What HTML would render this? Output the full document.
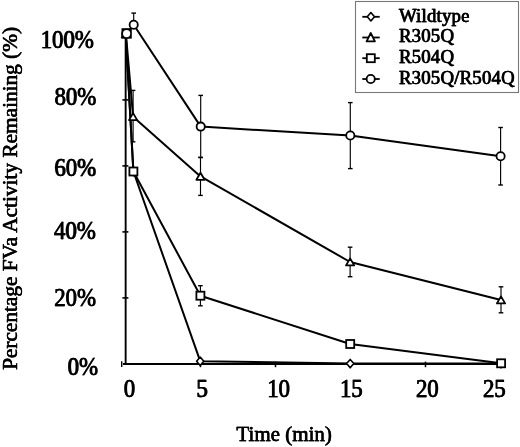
<!DOCTYPE html><html><head><meta charset="utf-8"><style>html,body{margin:0;padding:0;background:#fff;overflow:hidden}svg{display:block;will-change:transform}text{font-family:"Liberation Serif",serif;font-weight:normal;fill:#000;stroke:#000}</style></head><body>
<svg width="520" height="447" viewBox="0 0 520 447">
<rect x="0" y="0" width="520" height="447" fill="#fff"/>
<rect x="355.5" y="1.5" width="163" height="91" fill="none" stroke="#777" stroke-width="1.1"/>
<line x1="125.65" y1="33.90" x2="125.65" y2="364.9" stroke="#000" stroke-width="1.9"/>
<line x1="123.0" y1="363.9" x2="500.50" y2="363.9" stroke="#000" stroke-width="2"/>
<line x1="122.4" y1="297.90" x2="128.4" y2="297.90" stroke="#000" stroke-width="1.6"/>
<line x1="122.4" y1="231.90" x2="128.4" y2="231.90" stroke="#000" stroke-width="1.6"/>
<line x1="122.4" y1="165.90" x2="128.4" y2="165.90" stroke="#000" stroke-width="1.6"/>
<line x1="122.4" y1="99.90" x2="128.4" y2="99.90" stroke="#000" stroke-width="1.6"/>
<line x1="122.4" y1="33.90" x2="128.4" y2="33.90" stroke="#000" stroke-width="1.6"/>
<line x1="200.50" y1="361.6" x2="200.50" y2="367.2" stroke="#000" stroke-width="1.5"/>
<line x1="275.50" y1="361.6" x2="275.50" y2="367.2" stroke="#000" stroke-width="1.5"/>
<line x1="350.50" y1="361.6" x2="350.50" y2="367.2" stroke="#000" stroke-width="1.5"/>
<line x1="425.50" y1="361.6" x2="425.50" y2="367.2" stroke="#000" stroke-width="1.5"/>
<line x1="121.7" y1="361.3" x2="121.7" y2="366.9" stroke="#000" stroke-width="1.4"/>
<line x1="133.70" y1="13.10" x2="133.70" y2="24.80" stroke="#000" stroke-width="1.15"/>
<line x1="131.40" y1="13.10" x2="136.00" y2="13.10" stroke="#000" stroke-width="1.4"/>
<line x1="131.40" y1="24.80" x2="136.00" y2="24.80" stroke="#000" stroke-width="1.4"/>
<line x1="200.70" y1="95.40" x2="200.70" y2="157.60" stroke="#000" stroke-width="1.15"/>
<line x1="198.40" y1="95.40" x2="203.00" y2="95.40" stroke="#000" stroke-width="1.4"/>
<line x1="198.40" y1="157.60" x2="203.00" y2="157.60" stroke="#000" stroke-width="1.4"/>
<line x1="350.30" y1="102.60" x2="350.30" y2="168.60" stroke="#000" stroke-width="1.15"/>
<line x1="348.00" y1="102.60" x2="352.60" y2="102.60" stroke="#000" stroke-width="1.4"/>
<line x1="348.00" y1="168.60" x2="352.60" y2="168.60" stroke="#000" stroke-width="1.4"/>
<line x1="500.60" y1="127.50" x2="500.60" y2="185.00" stroke="#000" stroke-width="1.15"/>
<line x1="498.30" y1="127.50" x2="502.90" y2="127.50" stroke="#000" stroke-width="1.4"/>
<line x1="498.30" y1="185.00" x2="502.90" y2="185.00" stroke="#000" stroke-width="1.4"/>
<line x1="133.10" y1="90.40" x2="133.10" y2="141.80" stroke="#000" stroke-width="1.15"/>
<line x1="130.80" y1="90.40" x2="135.40" y2="90.40" stroke="#000" stroke-width="1.4"/>
<line x1="130.80" y1="141.80" x2="135.40" y2="141.80" stroke="#000" stroke-width="1.4"/>
<line x1="200.50" y1="157.30" x2="200.50" y2="195.40" stroke="#000" stroke-width="1.15"/>
<line x1="198.20" y1="157.30" x2="202.80" y2="157.30" stroke="#000" stroke-width="1.4"/>
<line x1="198.20" y1="195.40" x2="202.80" y2="195.40" stroke="#000" stroke-width="1.4"/>
<line x1="350.10" y1="247.20" x2="350.10" y2="276.70" stroke="#000" stroke-width="1.15"/>
<line x1="347.80" y1="247.20" x2="352.40" y2="247.20" stroke="#000" stroke-width="1.4"/>
<line x1="347.80" y1="276.70" x2="352.40" y2="276.70" stroke="#000" stroke-width="1.4"/>
<line x1="501.00" y1="286.80" x2="501.00" y2="312.80" stroke="#000" stroke-width="1.15"/>
<line x1="498.70" y1="286.80" x2="503.30" y2="286.80" stroke="#000" stroke-width="1.4"/>
<line x1="498.70" y1="312.80" x2="503.30" y2="312.80" stroke="#000" stroke-width="1.4"/>
<line x1="200.40" y1="285.70" x2="200.40" y2="305.80" stroke="#000" stroke-width="1.15"/>
<line x1="198.10" y1="285.70" x2="202.70" y2="285.70" stroke="#000" stroke-width="1.4"/>
<line x1="198.10" y1="305.80" x2="202.70" y2="305.80" stroke="#000" stroke-width="1.4"/>
<polyline points="125.70,34.00 133.40,171.50 200.20,361.20 350.20,363.60 501.00,363.60" fill="none" stroke="#000" stroke-width="2.0" stroke-linejoin="round"/>
<polyline points="125.70,33.60 133.40,171.50 200.40,295.70 350.20,344.00 501.10,363.30" fill="none" stroke="#000" stroke-width="2.0" stroke-linejoin="round"/>
<polyline points="125.90,34.00 133.10,116.70 200.50,176.40 350.10,262.00 501.00,300.00" fill="none" stroke="#000" stroke-width="2.0" stroke-linejoin="round"/>
<polyline points="126.30,33.70 133.70,24.80 200.70,126.60 350.30,135.50 500.60,156.30" fill="none" stroke="#000" stroke-width="2.0" stroke-linejoin="round"/>
<polygon points="125.70,29.80 129.30,34.00 125.70,38.20 122.10,34.00" fill="#fff" stroke="#000" stroke-width="1.6" stroke-linejoin="round"/>
<polygon points="133.40,167.30 137.00,171.50 133.40,175.70 129.80,171.50" fill="#fff" stroke="#000" stroke-width="1.6" stroke-linejoin="round"/>
<polygon points="200.20,357.00 203.80,361.20 200.20,365.40 196.60,361.20" fill="#fff" stroke="#000" stroke-width="1.6" stroke-linejoin="round"/>
<polygon points="350.20,359.40 353.80,363.60 350.20,367.80 346.60,363.60" fill="#fff" stroke="#000" stroke-width="1.6" stroke-linejoin="round"/>
<polygon points="501.00,359.40 504.60,363.60 501.00,367.80 497.40,363.60" fill="#fff" stroke="#000" stroke-width="1.6" stroke-linejoin="round"/>
<polygon points="125.90,30.40 130.00,37.40 121.80,37.40" fill="#fff" stroke="#000" stroke-width="1.8" stroke-linejoin="round"/>
<polygon points="133.10,113.10 137.20,120.10 129.00,120.10" fill="#fff" stroke="#000" stroke-width="1.8" stroke-linejoin="round"/>
<polygon points="200.50,172.80 204.60,179.80 196.40,179.80" fill="#fff" stroke="#000" stroke-width="1.8" stroke-linejoin="round"/>
<polygon points="350.10,258.40 354.20,265.40 346.00,265.40" fill="#fff" stroke="#000" stroke-width="1.8" stroke-linejoin="round"/>
<polygon points="501.00,296.40 505.10,303.40 496.90,303.40" fill="#fff" stroke="#000" stroke-width="1.8" stroke-linejoin="round"/>
<circle cx="126.30" cy="33.70" r="4.1" fill="#fff" stroke="#000" stroke-width="1.8"/>
<circle cx="133.70" cy="24.80" r="4.1" fill="#fff" stroke="#000" stroke-width="1.8"/>
<circle cx="200.70" cy="126.60" r="4.1" fill="#fff" stroke="#000" stroke-width="1.8"/>
<circle cx="350.30" cy="135.50" r="4.1" fill="#fff" stroke="#000" stroke-width="1.8"/>
<circle cx="500.60" cy="156.30" r="4.1" fill="#fff" stroke="#000" stroke-width="1.8"/>
<rect x="129.40" y="167.50" width="8" height="8" fill="#fff" stroke="#000" stroke-width="1.8"/>
<rect x="196.40" y="291.70" width="8" height="8" fill="#fff" stroke="#000" stroke-width="1.8"/>
<rect x="346.20" y="340.00" width="8" height="8" fill="#fff" stroke="#000" stroke-width="1.8"/>
<rect x="497.10" y="359.30" width="8" height="8" fill="#fff" stroke="#000" stroke-width="1.8"/>
<rect x="121.5" y="28.2" width="10.3" height="10.4" fill="#000"/>
<circle cx="126.6" cy="33.6" r="3.6" fill="#fff"/>
<line x1="362.3" y1="16.8" x2="379.7" y2="16.8" stroke="#000" stroke-width="1.8"/>
<line x1="362.3" y1="37.5" x2="379.7" y2="37.5" stroke="#000" stroke-width="1.8"/>
<line x1="362.3" y1="58.2" x2="379.7" y2="58.2" stroke="#000" stroke-width="1.8"/>
<line x1="362.3" y1="79.0" x2="379.7" y2="79.0" stroke="#000" stroke-width="1.8"/>
<polygon points="370.90,12.60 374.50,16.80 370.90,21.00 367.30,16.80" fill="#fff" stroke="#000" stroke-width="1.6" stroke-linejoin="round"/>
<polygon points="370.75,33.0 374.9,41.4 366.6,41.4" fill="#fff" stroke="#000" stroke-width="1.8" stroke-linejoin="round"/>
<rect x="366.80" y="54.20" width="8" height="8" fill="#fff" stroke="#000" stroke-width="1.8"/>
<circle cx="370.70" cy="79.00" r="4.1" fill="#fff" stroke="#000" stroke-width="1.8"/>
<g transform="translate(398.7,21.6)" font-size="18.8" text-anchor="start"><text x="0" style="stroke-width:0.35px;letter-spacing:0.2px">Wildtype</text><text x="0.45" style="stroke-width:0.35px;letter-spacing:0.2px">Wildtype</text></g>
<g transform="translate(398.7,42.0)" font-size="18.8" text-anchor="start"><text x="0" style="stroke-width:0.35px;letter-spacing:0.2px">R305Q</text><text x="0.45" style="stroke-width:0.35px;letter-spacing:0.2px">R305Q</text></g>
<g transform="translate(398.7,63.2)" font-size="18.8" text-anchor="start"><text x="0" style="stroke-width:0.35px;letter-spacing:0.2px">R504Q</text><text x="0.45" style="stroke-width:0.35px;letter-spacing:0.2px">R504Q</text></g>
<g transform="translate(398.7,84.2)" font-size="18.8" text-anchor="start"><text x="0" style="stroke-width:0.35px;letter-spacing:0.2px">R305Q/R504Q</text><text x="0.45" style="stroke-width:0.35px;letter-spacing:0.2px">R305Q/R504Q</text></g>
<g transform="translate(93.40,47.90) scale(0.955,1.03)" font-size="24" text-anchor="end"><text x="0" style="stroke-width:0.35px;letter-spacing:-0.1px">100%</text><text x="0.6" style="stroke-width:0.35px;letter-spacing:-0.1px">100%</text></g>
<g transform="translate(95.95,104.95) scale(0.955,1.03)" font-size="24" text-anchor="end"><text x="0" style="stroke-width:0.35px;letter-spacing:-0.1px">80%</text><text x="0.6" style="stroke-width:0.35px;letter-spacing:-0.1px">80%</text></g>
<g transform="translate(95.80,176.35) scale(0.955,1.03)" font-size="24" text-anchor="end"><text x="0" style="stroke-width:0.35px;letter-spacing:-0.1px">60%</text><text x="0.6" style="stroke-width:0.35px;letter-spacing:-0.1px">60%</text></g>
<g transform="translate(95.45,238.90) scale(0.955,1.03)" font-size="24" text-anchor="end"><text x="0" style="stroke-width:0.35px;letter-spacing:-0.1px">40%</text><text x="0.6" style="stroke-width:0.35px;letter-spacing:-0.1px">40%</text></g>
<g transform="translate(95.65,305.65) scale(0.955,1.03)" font-size="24" text-anchor="end"><text x="0" style="stroke-width:0.35px;letter-spacing:-0.1px">20%</text><text x="0.6" style="stroke-width:0.35px;letter-spacing:-0.1px">20%</text></g>
<g transform="translate(97.70,374.70) scale(0.955,1.03)" font-size="24" text-anchor="end"><text x="0" style="stroke-width:0.35px;letter-spacing:-0.1px">0%</text><text x="0.6" style="stroke-width:0.35px;letter-spacing:-0.1px">0%</text></g>
<g transform="translate(129.15,396.60) scale(0.955,1.03)" font-size="24" text-anchor="middle"><text x="0" style="stroke-width:0.35px;letter-spacing:-0.1px">0</text><text x="0.6" style="stroke-width:0.35px;letter-spacing:-0.1px">0</text></g>
<g transform="translate(201.80,396.70) scale(0.955,1.03)" font-size="24" text-anchor="middle"><text x="0" style="stroke-width:0.35px;letter-spacing:-0.1px">5</text><text x="0.6" style="stroke-width:0.35px;letter-spacing:-0.1px">5</text></g>
<g transform="translate(278.25,396.60) scale(0.955,1.03)" font-size="24" text-anchor="middle"><text x="0" style="stroke-width:0.35px;letter-spacing:-0.1px">10</text><text x="0.6" style="stroke-width:0.35px;letter-spacing:-0.1px">10</text></g>
<g transform="translate(351.05,396.60) scale(0.955,1.03)" font-size="24" text-anchor="middle"><text x="0" style="stroke-width:0.35px;letter-spacing:-0.1px">15</text><text x="0.6" style="stroke-width:0.35px;letter-spacing:-0.1px">15</text></g>
<g transform="translate(427.00,396.60) scale(0.955,1.03)" font-size="24" text-anchor="middle"><text x="0" style="stroke-width:0.35px;letter-spacing:-0.1px">20</text><text x="0.6" style="stroke-width:0.35px;letter-spacing:-0.1px">20</text></g>
<g transform="translate(494.00,396.60) scale(0.955,1.03)" font-size="24" text-anchor="middle"><text x="0" style="stroke-width:0.35px;letter-spacing:-0.1px">25</text><text x="0.6" style="stroke-width:0.35px;letter-spacing:-0.1px">25</text></g>
<g transform="translate(284,441.2)" font-size="21" text-anchor="middle"><text x="0" style="stroke-width:0.3px">Time (min)</text><text x="0.35" style="stroke-width:0.3px">Time (min)</text></g>
<g transform="translate(17,198.6) rotate(-90)" font-size="21.3" text-anchor="middle"><text x="0" style="stroke-width:0.3px">Percentage FVa Activity Remaining (%)</text><text x="0.35" style="stroke-width:0.3px">Percentage FVa Activity Remaining (%)</text></g>
</svg></body></html>
